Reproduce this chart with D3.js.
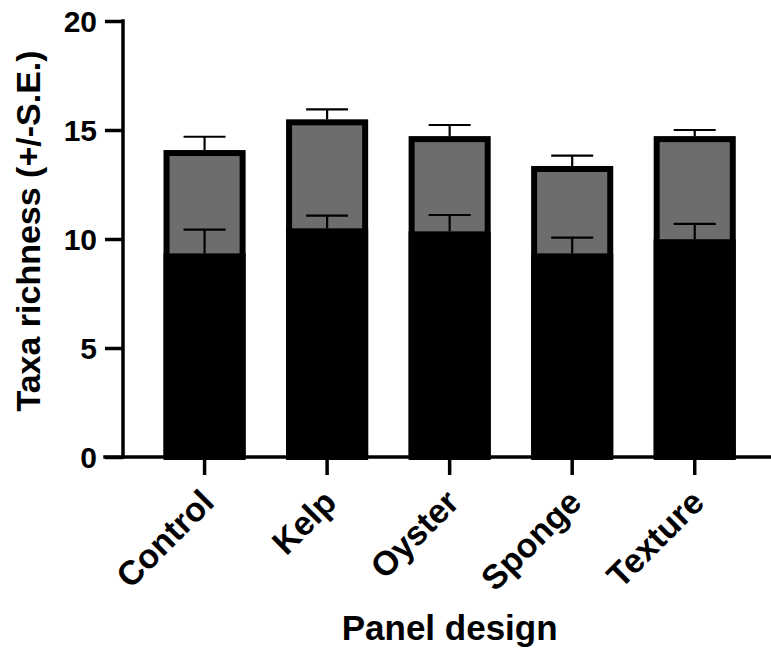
<!DOCTYPE html>
<html>
<head>
<meta charset="utf-8">
<script src="https://cdn.jsdelivr.net/npm/d3@7"></script>
<style>
    body { margin: 0; background: #fff; }
    svg { display: block; }
    text { font-family: "Liberation Sans", Arial, sans-serif; font-weight: bold; fill: #000; }
</style>
</head>
<body>
<div class="richness-chart"></div>
<script>
//Chart data
var panelDesigns = ["Control", "Kelp", "Oyster", "Sponge", "Texture"];
var outerMeans = [14.08, 15.49, 14.72, 13.35, 14.72];
var outerSE = [0.61, 0.46, 0.51, 0.47, 0.28];
var innerMeans = [9.34, 10.49, 10.35, 9.34, 9.99];
var innerSE = [1.09, 0.58, 0.75, 0.72, 0.70];
var yTicks = [0, 5, 10, 15, 20];

var width = 771;
var height = 649;
var tickLen = 18;
var axisWidth = 3.5;

var rows = panelDesigns.map(function (name, i) {
    return { name: name, outer: outerMeans[i], outerSE: outerSE[i], inner: innerMeans[i], innerSE: innerSE[i] };
});

var svg = d3.select(".richness-chart")
    .append("svg")
    .attr("width", width)
    .attr("height", height);

var x = d3.scaleBand()
    .domain(panelDesigns)
    .range([143.3, 756])
    .paddingInner(0.33)
    .paddingOuter(0.165);

var y = d3.scaleLinear()
    .domain([0, 20])
    .range([457, 21]);

var yAxisX = 123;
var bw = x.bandwidth();
var border = 6;
var capHalf = 21;

//Grey bars with thick black border (drawn inside the bar)
svg.append("g").selectAll("rect")
    .data(rows)
    .enter().append("rect")
    .attr("x", function (d) { return x(d.name) + border / 2; })
    .attr("y", function (d) { return y(d.outer) + border / 2; })
    .attr("width", bw - border)
    .attr("height", function (d) { return y(0) - y(d.outer) - border / 2; })
    .attr("fill", "#6d6d6d")
    .attr("stroke", "#000")
    .attr("stroke-width", border);

//Upper error bars for grey bars
var outerErr = svg.append("g").selectAll("g")
    .data(rows)
    .enter().append("g");
outerErr.append("line")
    .attr("x1", function (d) { return x(d.name) + bw / 2; })
    .attr("x2", function (d) { return x(d.name) + bw / 2; })
    .attr("y1", function (d) { return y(d.outer); })
    .attr("y2", function (d) { return y(d.outer + d.outerSE); });
outerErr.append("line")
    .attr("x1", function (d) { return x(d.name) + bw / 2 - capHalf; })
    .attr("x2", function (d) { return x(d.name) + bw / 2 + capHalf; })
    .attr("y1", function (d) { return y(d.outer + d.outerSE); })
    .attr("y2", function (d) { return y(d.outer + d.outerSE); });

//Black bars in front
svg.append("g").selectAll("rect")
    .data(rows)
    .enter().append("rect")
    .attr("x", function (d) { return x(d.name); })
    .attr("y", function (d) { return y(d.inner); })
    .attr("width", bw)
    .attr("height", function (d) { return y(0) - y(d.inner); })
    .attr("fill", "#000");

//Upper error bars for black bars
var innerErr = svg.append("g").selectAll("g")
    .data(rows)
    .enter().append("g");
innerErr.append("line")
    .attr("x1", function (d) { return x(d.name) + bw / 2; })
    .attr("x2", function (d) { return x(d.name) + bw / 2; })
    .attr("y1", function (d) { return y(d.inner); })
    .attr("y2", function (d) { return y(d.inner + d.innerSE); });
innerErr.append("line")
    .attr("x1", function (d) { return x(d.name) + bw / 2 - capHalf; })
    .attr("x2", function (d) { return x(d.name) + bw / 2 + capHalf; })
    .attr("y1", function (d) { return y(d.inner + d.innerSE); })
    .attr("y2", function (d) { return y(d.inner + d.innerSE); });

svg.selectAll("g line")
    .attr("stroke", "#000")
    .attr("stroke-width", 2.2);

//Y axis
var yAxis = svg.append("g")
    .attr("transform", "translate(" + yAxisX + ",0)")
    .call(d3.axisLeft(y).tickValues(yTicks).tickSize(tickLen).tickSizeOuter(0).tickPadding(8));
yAxis.select(".domain").remove();
yAxis.append("line")
    .attr("y1", y(20) - axisWidth / 2)
    .attr("y2", y(0) + axisWidth / 2)
    .attr("stroke", "#000")
    .attr("stroke-width", axisWidth);
yAxis.selectAll(".tick line").attr("stroke-width", axisWidth);
yAxis.selectAll(".tick text")
    .attr("font-size", "30px")
    .attr("dy", "0.36em");

//X axis
var xAxis = svg.append("g")
    .attr("transform", "translate(0," + y(0) + ")")
    .call(d3.axisBottom(x).tickSize(tickLen).tickSizeOuter(0));
xAxis.select(".domain").remove();
xAxis.append("line")
    .attr("x1", yAxisX - tickLen - axisWidth / 2)
    .attr("x2", width)
    .attr("stroke", "#000")
    .attr("stroke-width", axisWidth);
xAxis.selectAll(".tick line").attr("stroke-width", axisWidth);
xAxis.selectAll(".tick text")
    .attr("font-size", "34px")
    .attr("text-anchor", "end")
    .attr("y", 0)
    .attr("dy", "0.72em")
    .attr("transform", "translate(-6,30) rotate(-45)");

//Axis titles
svg.append("text")
    .attr("transform", "translate(40," + ((y(0) + y(20)) / 2 - 8) + ") rotate(-90)")
    .attr("text-anchor", "middle")
    .attr("font-size", "34px")
    .text("Taxa richness (+/-S.E.)");

svg.append("text")
    .attr("x", x("Oyster") + bw / 2)
    .attr("y", 640)
    .attr("text-anchor", "middle")
    .attr("font-size", "35px")
    .text("Panel design");

svg.selectAll("text").attr("font-family", "Liberation Sans, Arial, sans-serif").attr("font-weight", "bold").attr("fill", "#000");
</script>
</body>
</html>
